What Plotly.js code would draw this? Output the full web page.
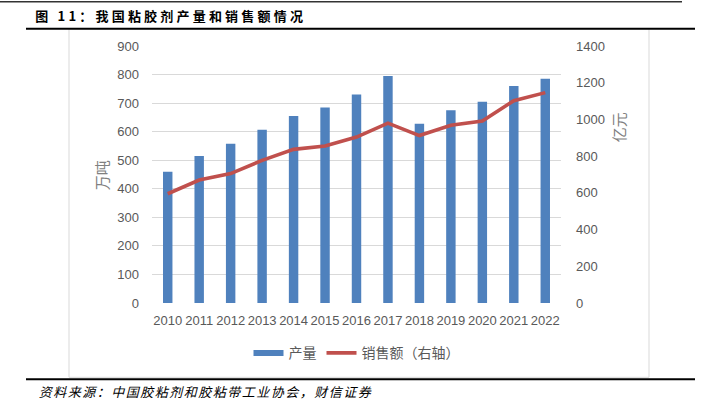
<!DOCTYPE html>
<html>
<head>
<meta charset="utf-8">
<script src="https://cdn.plot.ly/plotly-3.0.1.min.js"></script>
<style>
  html, body { margin: 0; padding: 0; background: #fff; }
  #chart { width: 712px; height: 406px; }
  .annotation[data-index="0"] text { letter-spacing: 3.2px; }
  .annotation[data-index="1"] text { letter-spacing: 1.5px; }
</style>
</head>
<body>
<div id="chart"></div>
<script>
// ---- data ----
const years = ['2010','2011','2012','2013','2014','2015','2016','2017','2018','2019','2020','2021','2022'];
const output = [460, 515, 558, 607, 655, 685, 730, 795, 628, 675, 705, 760, 785];        // 产量 (万吨)
const sales = [595, 670, 705, 777, 837, 855, 904, 980, 912, 968, 991, 1102, 1146];       // 销售额 (亿元)
const leftTicks = [0, 100, 200, 300, 400, 500, 600, 700, 800, 900];
const rightTicks = [0, 200, 400, 600, 800, 1000, 1200, 1400];
const titleText = '图 11：我国粘胶剂产量和销售额情况';
const sourceText = '资料来源：中国胶粘剂和胶粘带工业协会，财信证券';
const nameOutput = '产量';
const nameSales = '销售额（右轴）';
const leftTitle = '万吨';
const rightTitle = '亿元';

// ---- layout helpers (pixel -> paper) ----
const W = 712, H = 406;
const PL = 152, PR = 561, PT = 45.7, PB = 302.7;
const px = x => (x - PL) / (PR - PL);
const py = y => (PB - y) / (PB - PT);

const blue = '#4f81bd';
const red = '#c0504d';
const tickFont = {family: 'Liberation Sans, Arial, sans-serif', size: 13, color: '#595959'};
const cjk = 'Noto Sans CJK SC, sans-serif';

const traces = [
  {
    type: 'bar', x: years, y: output, name: nameOutput,
    marker: {color: blue}, showlegend: false, hoverinfo: 'skip'
  },
  {
    type: 'scatter', mode: 'lines', x: [null], y: [null], name: nameOutput,
    line: {color: blue, width: 6}, hoverinfo: 'skip', showlegend: true
  },
  {
    type: 'scatter', mode: 'lines', x: years, y: sales, name: nameSales, yaxis: 'y2',
    line: {color: red, width: 3.6}, hoverinfo: 'skip'
  }
];

const hline = (x0, x1, y, color, width) => ({
  type: 'line', xref: 'paper', yref: 'paper',
  x0: px(x0), x1: px(x1), y0: py(y), y1: py(y),
  line: {color: color, width: width}
});

const layout = {
  width: W, height: H,
  margin: {l: PL, r: W - PR, t: PT, b: H - PB, pad: 0},
  paper_bgcolor: '#ffffff', plot_bgcolor: 'rgba(0,0,0,0)',
  bargap: 0.7,
  showlegend: true,
  legend: {
    orientation: 'h', x: 0.5, xanchor: 'center', y: py(353), yanchor: 'middle',
    font: {family: cjk, size: 14, color: '#595959'},
    itemwidth: 30, traceorder: 'normal', bgcolor: 'rgba(0,0,0,0)'
  },
  xaxis: {
    type: 'category', tickfont: tickFont, showgrid: false, zeroline: false,
    showline: false, ticks: '', ticklabelstandoff: 8, fixedrange: true
  },
  yaxis: {
    range: [0, 900], tickvals: leftTicks, ticktext: leftTicks.map(String),
    tickfont: tickFont, showgrid: true, gridcolor: '#d9d9d9', gridwidth: 1,
    zeroline: false, showline: false, ticks: '', ticklabelstandoff: 12, fixedrange: true
  },
  yaxis2: {
    range: [0, 1400], tickvals: rightTicks, ticktext: rightTicks.map(String),
    overlaying: 'y', side: 'right', tickfont: tickFont, showgrid: false,
    zeroline: false, showline: false, ticks: '', ticklabelstandoff: 14, fixedrange: true
  },
  shapes: [
    hline(0, 682, 1.5, '#333333', 1.5),
    hline(26, 695, 28.5, '#000000', 2),
    {
      type: 'rect', xref: 'paper', yref: 'paper',
      x0: px(69), x1: px(649), y0: py(28.5), y1: py(377),
      line: {color: '#d9d9d9', width: 1}, fillcolor: 'rgba(0,0,0,0)', layer: 'below'
    },
    hline(26, 695, 379, '#000000', 2)
  ],
  annotations: [
    {
      text: '<b>' + titleText + '</b>', xref: 'paper', yref: 'paper',
      x: px(62), y: py(15.5), xanchor: 'left', yanchor: 'middle', showarrow: false,
      font: {family: cjk, size: 13, color: '#000000'}
    },
    {
      text: sourceText, xref: 'paper', yref: 'paper',
      x: px(54), y: py(391), xanchor: 'left', yanchor: 'middle', showarrow: false,
      font: {family: cjk, size: 13, color: '#000000', style: 'italic'}
    },
    {
      text: leftTitle, xref: 'paper', yref: 'paper',
      x: px(101), y: py(175), xanchor: 'center', yanchor: 'middle', showarrow: false,
      textangle: -90, font: {family: cjk, size: 15, color: '#808080'}
    },
    {
      text: rightTitle, xref: 'paper', yref: 'paper',
      x: px(618), y: py(127), xanchor: 'center', yanchor: 'middle', showarrow: false,
      textangle: -90, font: {family: cjk, size: 15, color: '#808080'}
    }
  ]
};

Plotly.newPlot('chart', traces, layout, {staticPlot: true, displayModeBar: false});
</script>
</body>
</html>
